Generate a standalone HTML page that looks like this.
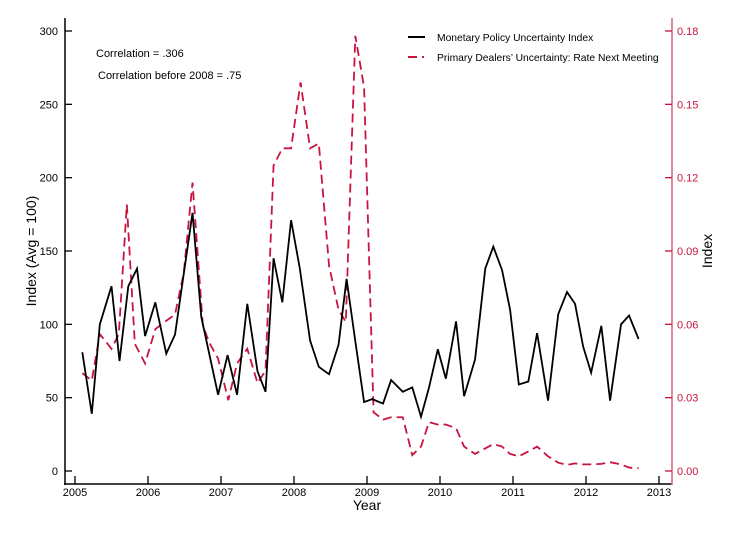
<!DOCTYPE html>
<html><head><meta charset="utf-8"><style>
body{margin:0;background:#fff;font-family:"Liberation Sans",sans-serif}
svg{display:block}
</style></head><body>
<svg id="chart" width="739" height="538">
<g id="axes"></g><g id="series"></g>
<text x="96" y="57" font-size="11">Correlation = .306</text>
<text x="98" y="79" font-size="11">Correlation before 2008 = .75</text>
<g>
<line x1="408" y1="37" x2="425" y2="37" stroke="#000" stroke-width="2"/>
<text x="437" y="41" font-size="10.3">Monetary Policy Uncertainty Index</text>
<line x1="408" y1="57" x2="425" y2="57" stroke="#c8143f" stroke-width="2" stroke-dasharray="9,5,2,5"/>
<text x="437" y="61" font-size="10.3">Primary Dealers’ Uncertainty: Rate Next Meeting</text>
</g>
<text x="367" y="510" font-size="14" text-anchor="middle">Year</text>
<text transform="translate(36,251) rotate(-90)" font-size="14" text-anchor="middle">Index (Avg = 100)</text>
<text transform="translate(712,251) rotate(-90)" font-size="14" text-anchor="middle">Index</text>
</svg>
<script>
const blackYears=[2005.10,2005.23,2005.34,2005.50,2005.61,2005.73,2005.85,2005.96,2006.10,2006.25,2006.37,2006.61,2006.73,2006.96,2007.09,2007.22,2007.36,2007.50,2007.61,2007.72,2007.84,2007.96,2008.08,2008.22,2008.34,2008.48,2008.61,2008.72,2008.85,2008.96,2009.07,2009.22,2009.33,2009.49,2009.62,2009.74,2009.85,2009.97,2010.08,2010.22,2010.33,2010.48,2010.62,2010.73,2010.85,2010.96,2011.08,2011.21,2011.33,2011.48,2011.62,2011.74,2011.85,2011.96,2012.07,2012.21,2012.33,2012.48,2012.59,2012.72];
const blackValues=[81,39,100,126,75,126,138,92,115,80,93,176,105,52,79,52,114,68,54,145,115,171,138,89,71,66,86,131,85,47,49,46,62,54,57,37,57,83,63,102,51,76,138,153,137,110,59,61,94,48,107,122,114,85,67,99,48,100,106,90];
const redYears=[2005.10,2005.23,2005.34,2005.50,2005.60,2005.71,2005.82,2005.96,2006.10,2006.23,2006.37,2006.49,2006.61,2006.75,2006.83,2006.96,2007.10,2007.22,2007.36,2007.50,2007.61,2007.72,2007.84,2007.96,2008.09,2008.22,2008.34,2008.48,2008.61,2008.71,2008.84,2008.96,2009.09,2009.18,2009.22,2009.33,2009.49,2009.62,2009.74,2009.85,2009.97,2010.08,2010.22,2010.33,2010.48,2010.73,2010.85,2010.96,2011.08,2011.21,2011.33,2011.48,2011.62,2011.74,2011.85,2011.96,2012.07,2012.21,2012.33,2012.48,2012.59,2012.72];
const redValues=[0.040,0.037,0.056,0.050,0.056,0.109,0.052,0.044,0.058,0.061,0.064,0.081,0.118,0.060,0.053,0.046,0.029,0.044,0.050,0.036,0.041,0.125,0.132,0.132,0.159,0.132,0.134,0.084,0.066,0.061,0.178,0.157,0.024,0.022,0.021,0.022,0.022,0.0065,0.010,0.020,0.019,0.019,0.0175,0.010,0.007,0.011,0.010,0.007,0.006,0.008,0.010,0.006,0.0034,0.0025,0.0031,0.0027,0.0027,0.0029,0.0036,0.0027,0.0014,0.0011];
const xTicks=[2005,2006,2007,2008,2009,2010,2011,2012,2013];
const leftTicks=[0,50,100,150,200,250,300];
const rightTicks=[0,0.03,0.06,0.09,0.12,0.15,0.18];
const rightLabels=["0.00","0.03","0.06","0.09","0.12","0.15","0.18"];
const NS="http://www.w3.org/2000/svg";
const X=y=>75+(y-2005)*73;
const YL=v=>471-v*440/300;
const YR=v=>471-v*440/0.18;
const axes=document.getElementById('axes'),series=document.getElementById('series');
function mk(tag,attrs,parent){const e=document.createElementNS(NS,tag);for(const k in attrs)e.setAttribute(k,attrs[k]);parent.appendChild(e);return e;}
const RED="#c8143f";
let e;
e=mk('line',{x1:65,y1:18,x2:65,y2:485,stroke:'#000','stroke-width':1.5},axes);


e=mk('line',{x1:64,y1:484,x2:672,y2:484,stroke:'#000','stroke-width':1.5},axes);


e=mk('line',{x1:672,y1:18,x2:672,y2:485,stroke:'#d9607a','stroke-width':1.5},axes);


xTicks.forEach(t=>{
 e=mk('line',{x1:X(t),y1:476,x2:X(t),y2:484,stroke:'#000','stroke-width':1.3},axes);
 
 
 e=mk('text',{x:X(t),y:496,'font-size':11,'text-anchor':'middle'},axes);e.textContent=t;
 
 
});
leftTicks.forEach(t=>{
 e=mk('line',{x1:65,y1:YL(t),x2:72,y2:YL(t),stroke:'#000','stroke-width':1.3},axes);
 
 
 e=mk('text',{x:58,y:YL(t)+4,'font-size':11,'text-anchor':'end'},axes);e.textContent=t;
 
 
});
rightTicks.forEach((t,i)=>{
 e=mk('line',{x1:665,y1:YR(t),x2:672,y2:YR(t),stroke:RED,'stroke-width':1.3},axes);
 
 
 e=mk('text',{x:677,y:YR(t)+4,'font-size':11,fill:RED},axes);e.textContent=rightLabels[i];
 
 
});
e=mk('polyline',{points:redYears.map((y,i)=>X(y)+','+YR(redValues[i])).join(' '),fill:'none',stroke:RED,'stroke-width':1.8,'stroke-dasharray':'9,5'},series);


e=mk('polyline',{points:blackYears.map((y,i)=>X(y)+','+YL(blackValues[i])).join(' '),fill:'none',stroke:'#000','stroke-width':1.8,'stroke-linejoin':'miter'},series);


</script>
</body></html>
